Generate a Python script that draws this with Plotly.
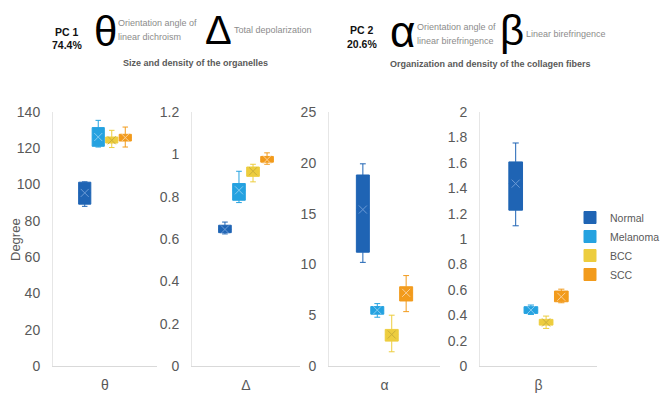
import plotly.graph_objects as go

W, H = 671, 397
OFF = 8  # page body margin in the browser
FW, FH = W - OFF, H - OFF

groups = ["Normal", "Melanoma", "BCC", "SCC"]
colors = ["#1F64B4", "#25A2E0", "#EDCD3E", "#F29B1C"]
mean_colors = ["#6C9BD6", "#86CBF0", "#C9AE3A", "#FAD09A"]

params = ["θ", "Δ", "α", "β"]

# per parameter: lists ordered as groups
theta_lo = [88.0, 120.7, 120.4, 120.7]
theta_q1 = [89.2, 121.1, 122.9, 124.0]
theta_q3 = [101.3, 131.4, 126.2, 127.7]
theta_hi = [101.5, 135.4, 129.9, 131.7]
theta_mean = [95.4, 126.2, 124.4, 125.9]

delta_lo = [0.624, 0.772, 0.870, 0.953]
delta_q1 = [0.630, 0.783, 0.896, 0.963]
delta_q3 = [0.665, 0.862, 0.940, 0.990]
delta_hi = [0.680, 0.920, 0.953, 1.007]
delta_mean = [0.645, 0.830, 0.920, 0.975]

alpha_lo = [10.2, 4.8, 1.4, 5.35]
alpha_q1 = [11.2, 5.1, 2.45, 6.4]
alpha_q3 = [18.8, 5.85, 3.6, 7.8]
alpha_hi = [19.9, 6.14, 5.0, 8.9]
alpha_mean = [15.4, 5.5, 3.1, 7.2]

beta_lo = [1.104, 0.406, 0.296, 0.498]
beta_q1 = [1.227, 0.414, 0.322, 0.506]
beta_q3 = [1.607, 0.467, 0.367, 0.590]
beta_hi = [1.756, 0.480, 0.393, 0.605]
beta_mean = [1.436, 0.440, 0.343, 0.545]

stats = [
    (theta_lo, theta_q1, theta_q3, theta_hi, theta_mean),
    (delta_lo, delta_q1, delta_q3, delta_hi, delta_mean),
    (alpha_lo, alpha_q1, alpha_q3, alpha_hi, alpha_mean),
    (beta_lo, beta_q1, beta_q3, beta_hi, beta_mean),
]

y_ranges = [[0, 140], [0, 1.2], [0, 25], [0, 2]]
y_dticks = [20, 0.2, 5, 0.2]

# subplot pixel extents (page pixels)
x_px = [(53, 157), (192, 300), (329, 440), (480, 597)]
y_px = (112, 366)


def px2x(px):
    return (px - OFF) / FW


def px2y(py):
    return 1 - (py - OFF) / FH


fig = go.Figure()

for p, (lo, q1, q3, hi, mn) in enumerate(stats):
    xa = "x" if p == 0 else f"x{p+1}"
    ya = "y" if p == 0 else f"y{p+1}"
    for g, name in enumerate(groups):
        fig.add_trace(go.Box(
            x=[params[p]], q1=[q1[g]], median=[mn[g]], q3=[q3[g]],
            lowerfence=[lo[g]], upperfence=[hi[g]],
            name=name, legendgroup=name, showlegend=(p == 0),
            fillcolor=colors[g], line=dict(color=colors[g], width=1),
            whiskerwidth=0.45, offsetgroup=name,
            xaxis=xa, yaxis=ya,
        ))
    for g, name in enumerate(groups):
        fig.add_trace(go.Scatter(
            x=[params[p]], y=[mn[g]], mode="markers",
            marker=dict(symbol="x-thin-open", size=8, color=mean_colors[g],
                        line=dict(color=mean_colors[g], width=1)),
            showlegend=False, legendgroup=name, offsetgroup=name,
            hoverinfo="skip", xaxis=xa, yaxis=ya,
        ))

axis_font = dict(family="Liberation Sans, Arial, sans-serif", size=14, color="#595959")
ydom = [px2y(y_px[1]), px2y(y_px[0])]
layout = dict(
    width=FW, height=FH, autosize=False,
    margin=dict(l=0, r=0, t=0, b=0, pad=0, autoexpand=False),
    paper_bgcolor="white", plot_bgcolor="white",
    boxmode="group", boxgap=0.48, boxgroupgap=0.1,
    scattermode="group", scattergap=0.48,
    font=dict(family="Liberation Sans, Arial, sans-serif", color="#595959"),
    legend=dict(x=px2x(570), y=px2y(203), xanchor="left", yanchor="top",
                font=dict(size=10.5, color="#595959"), tracegroupgap=0,
                bgcolor="rgba(0,0,0,0)"),
)
for p in range(4):
    xk = "xaxis" if p == 0 else f"xaxis{p+1}"
    yk = "yaxis" if p == 0 else f"yaxis{p+1}"
    ya = "y" if p == 0 else f"y{p+1}"
    xa = "x" if p == 0 else f"x{p+1}"
    layout[xk] = dict(domain=[px2x(x_px[p][0]), px2x(x_px[p][1])], anchor=ya,
                      type="category", showline=True, linecolor="#D9D9D9",
                      showgrid=False, zeroline=False, tickfont=axis_font,
                      ticks="", ticklabelstandoff=6, automargin=False)
    layout[yk] = dict(domain=ydom, anchor=xa, range=y_ranges[p], dtick=y_dticks[p],
                      showline=True, linecolor="#E6E6E6", showgrid=False,
                      zeroline=False, tickfont=axis_font, ticks="",
                      ticklabelstandoff=9, automargin=False)
fig.update_layout(**layout)


def ann(text, px, py, size, color, bold=False, xanchor="left", angle=0):
    t = f"<b>{text}</b>" if bold else text
    fig.add_annotation(
        text=t, x=px2x(px), y=px2y(py), xref="paper", yref="paper",
        xanchor=xanchor, yanchor="middle", showarrow=False, textangle=angle,
        font=dict(size=size, color=color, family="Liberation Sans, Arial, sans-serif"),
    )


ann("Degree", 15, 240, 13, "#595959", xanchor="center", angle=-90)

# header left
ann("PC 1", 67, 32, 10.5, "#111111", bold=True, xanchor="center")
ann("74.4%", 67, 45, 10.5, "#111111", bold=True, xanchor="center")
ann("θ", 105, 31, 42, "#000000", xanchor="center")
ann("Orientation angle of", 116, 23, 9, "#8C8C8C")
ann("linear dichroism", 116, 37, 9, "#8C8C8C")
ann("Δ", 218, 30, 40, "#000000", xanchor="center")
ann("Total depolarization", 232, 30, 9, "#8C8C8C")
ann("Size and density of the organelles", 195, 63, 9, "#595959", bold=True, xanchor="center")

# header right
ann("PC 2", 362, 30, 10.5, "#111111", bold=True, xanchor="center")
ann("20.6%", 362, 44, 10.5, "#111111", bold=True, xanchor="center")
ann("α", 402, 31, 44, "#000000", xanchor="center")
ann("Orientation angle of", 415, 27, 9, "#8C8C8C")
ann("linear birefringence", 415, 41, 9, "#8C8C8C")
ann("β", 512, 30, 42, "#000000", xanchor="center")
ann("Linear birefringence", 524, 34, 9, "#8C8C8C")
ann("Organization and density of the collagen fibers", 490, 64, 9, "#595959", bold=True, xanchor="center")

fig.write_html("out.html")
